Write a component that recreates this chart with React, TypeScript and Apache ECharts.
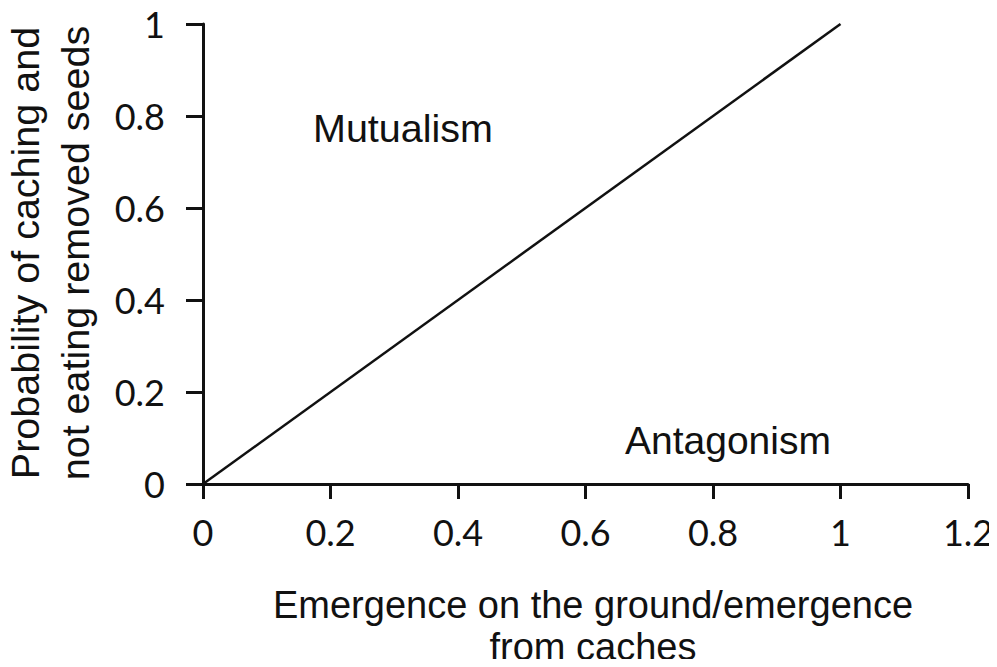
import React, { useEffect, useRef } from "react";
import * as echarts from "echarts";

const lineX = [0, 1];
const lineY = [0, 1];
const xTitleLines = ["Emergence on the ground/emergence", "from caches"];
const yTitleLines = ["Probability of caching and", "not eating removed seeds"];
const regionLabels = ["Mutualism", "Antagonism"];

export default function App() {
  const ref = useRef<HTMLDivElement>(null);
  useEffect(() => {
    if (!ref.current) return;
    const chart = echarts.init(ref.current, null, { renderer: "svg" });
    const textFont = "'Liberation Sans', Arial, sans-serif";
    const tickFont = "Lato, 'Open Sans', sans-serif";
    const txt = (s: string, x: number, y: number, align: string, size: number, rot = 0) => ({
      type: "text",
      x,
      y,
      rotation: rot,
      style: {
        text: s,
        fontFamily: textFont,
        fontSize: size,
        fill: "#111",
        textAlign: align,
        textVerticalAlign: "middle",
      },
    });
    chart.setOption({
      animation: false,
      backgroundColor: "#fff",
      grid: { left: 203, right: 29, top: 24, bottom: 183, containLabel: false, outerBoundsMode: "none" },
      xAxis: {
        type: "value",
        min: 0,
        max: 1.2,
        interval: 0.2,
        splitLine: { show: false },
        axisLine: { show: true, onZero: false, lineStyle: { color: "#111", width: 3 } },
        axisTick: { show: true, length: 15, lineStyle: { color: "#111", width: 3 } },
        axisLabel: { margin: 30, fontFamily: tickFont, fontSize: 36, color: "#111" },
      },
      yAxis: {
        type: "value",
        min: 0,
        max: 1,
        interval: 0.2,
        splitLine: { show: false },
        axisLine: { show: true, onZero: false, lineStyle: { color: "#111", width: 3 } },
        axisTick: { show: true, length: 17, lineStyle: { color: "#111", width: 3 } },
        axisLabel: { margin: 38, fontFamily: tickFont, fontSize: 36, color: "#111" },
      },
      series: [
        {
          type: "line",
          data: lineX.map((x, i) => [x, lineY[i]]),
          symbol: "none",
          lineStyle: { color: "#111", width: 2.5 },
        },
      ],
      graphic: [
        txt(regionLabels[0], 313, 128, "left", 39.5),
        txt(regionLabels[1], 625, 440, "left", 39),
        txt(xTitleLines[0], 593, 605, "center", 38),
        txt(xTitleLines[1], 593, 647, "center", 38),
        txt(yTitleLines[0], 25, 253, "center", 39.5, Math.PI / 2),
        txt(yTitleLines[1], 75, 253, "center", 39.5, Math.PI / 2),
      ],
    });
    return () => chart.dispose();
  }, []);
  return <div ref={ref} style={{ width: 997, height: 667, margin: -8 }} />;
}
